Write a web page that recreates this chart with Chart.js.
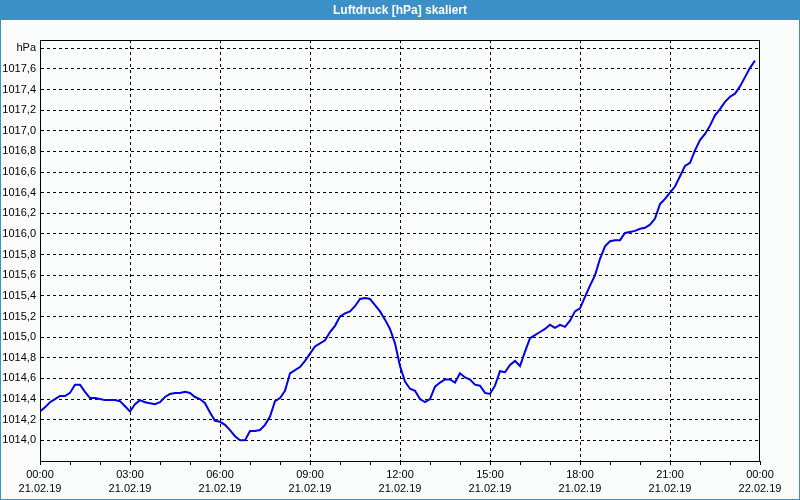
<!DOCTYPE html>
<html>
<head>
<meta charset="utf-8">
<title>Luftdruck</title>
<script src="https://cdn.jsdelivr.net/npm/chart.js@4.4.1/dist/chart.umd.min.js"></script>
<style>
  html, body { margin: 0; padding: 0; background: #fbfdfc; }
  canvas { display: block; }
</style>
</head>
<body>
<canvas id="chartLuftdruck" width="800" height="500"></canvas>
<script>
// Messzeiten (21.02.19, alle 10 Minuten)
const zeiten = [
  "00:00","00:10","00:20","00:30","00:40","00:50","01:00","01:10","01:20","01:30","01:40","01:50",
  "02:00","02:10","02:20","02:30","02:40","02:50","03:00","03:10","03:20","03:30","03:40","03:50",
  "04:00","04:10","04:20","04:30","04:40","04:50","05:00","05:10","05:20","05:30","05:40","05:50",
  "06:00","06:10","06:20","06:30","06:40","06:50","07:00","07:10","07:20","07:30","07:40","07:50",
  "08:00","08:10","08:20","08:30","08:40","08:50","09:00","09:10","09:20","09:30","09:40","09:50",
  "10:00","10:10","10:20","10:30","10:40","10:50","11:00","11:10","11:20","11:30","11:40","11:50",
  "12:00","12:10","12:20","12:30","12:40","12:50","13:00","13:10","13:20","13:30","13:40","13:50",
  "14:00","14:10","14:20","14:30","14:40","14:50","15:00","15:10","15:20","15:30","15:40","15:50",
  "16:00","16:10","16:20","16:30","16:40","16:50","17:00","17:10","17:20","17:30","17:40","17:50",
  "18:00","18:10","18:20","18:30","18:40","18:50","19:00","19:10","19:20","19:30","19:40","19:50",
  "20:00","20:10","20:20","20:30","20:40","20:50","21:00","21:10","21:20","21:30","21:40","21:50",
  "22:00","22:10","22:20","22:30","22:40","22:50","23:00","23:10","23:20","23:30","23:40","23:50"
];

// Luftdruck in hPa
const druck = [
  1014.28, 1014.32, 1014.37, 1014.40, 1014.43, 1014.43, 1014.46, 1014.54, 1014.54, 1014.47, 1014.41, 1014.41,
  1014.40, 1014.39, 1014.39, 1014.39, 1014.38, 1014.33, 1014.28, 1014.35, 1014.39, 1014.37, 1014.36, 1014.35,
  1014.37, 1014.42, 1014.45, 1014.46, 1014.46, 1014.47, 1014.46, 1014.42, 1014.40, 1014.36, 1014.27, 1014.19,
  1014.18, 1014.15, 1014.10, 1014.04, 1014.00, 1014.00, 1014.09, 1014.09, 1014.10, 1014.15, 1014.23, 1014.38,
  1014.41, 1014.48, 1014.65, 1014.68, 1014.71, 1014.77, 1014.84, 1014.91, 1014.94, 1014.97, 1015.05, 1015.11,
  1015.20, 1015.23, 1015.25, 1015.30, 1015.37, 1015.38, 1015.37, 1015.31, 1015.25, 1015.17, 1015.08, 1014.94,
  1014.72, 1014.57, 1014.50, 1014.48, 1014.40, 1014.37, 1014.40, 1014.52, 1014.56, 1014.59, 1014.59, 1014.56,
  1014.65, 1014.61, 1014.59, 1014.54, 1014.53, 1014.46, 1014.45, 1014.53, 1014.67, 1014.66, 1014.73, 1014.77,
  1014.72, 1014.86, 1014.99, 1015.02, 1015.05, 1015.08, 1015.12, 1015.09, 1015.12, 1015.10, 1015.16, 1015.25,
  1015.28, 1015.39, 1015.50, 1015.60, 1015.76, 1015.88, 1015.93, 1015.94, 1015.94, 1016.01, 1016.02, 1016.03,
  1016.05, 1016.06, 1016.09, 1016.15, 1016.29, 1016.34, 1016.40, 1016.46, 1016.56, 1016.66, 1016.69, 1016.81,
  1016.91, 1016.97, 1017.05, 1017.15, 1017.21, 1017.28, 1017.33, 1017.36, 1017.43, 1017.52, 1017.61, 1017.68
];

// Achsenbeschriftung
const xTickZeit = ["00:00", "03:00", "06:00", "09:00", "12:00", "15:00", "18:00", "21:00", "00:00"];
const xTickDatum = ["21.02.19", "21.02.19", "21.02.19", "21.02.19", "21.02.19", "21.02.19", "21.02.19", "21.02.19", "22.02.19"];
const yTicks = [1014.0, 1014.2, 1014.4, 1014.6, 1014.8, 1015.0, 1015.2, 1015.4, 1015.6, 1015.8,
                1016.0, 1016.2, 1016.4, 1016.6, 1016.8, 1017.0, 1017.2, 1017.4, 1017.6, 1017.8];
const yEinheit = "hPa";

const blau = "#3c90c8";

// Zeit "HH:MM" -> Stunden
function inStunden(t) {
  const [h, m] = t.split(":").map(Number);
  return h + m / 60;
}

const punkte = zeiten.map((t, i) => ({ x: inStunden(t), y: druck[i] }));

// Hintergrund, Titelbalken und Rahmen
const rahmenPlugin = {
  id: "rahmen",
  beforeDraw(chart) {
    const c = chart.ctx;
    c.save();
    c.fillStyle = "#fbfdfc";
    c.fillRect(0, 0, chart.width, chart.height);
    c.fillStyle = blau;
    c.fillRect(0, 0, chart.width, 20);
    c.strokeStyle = blau;
    c.lineWidth = 1;
    c.strokeRect(0.5, 0.5, chart.width - 1, chart.height - 1);
    c.restore();
  },
  afterDraw(chart) {
    const a = chart.chartArea;
    const c = chart.ctx;
    c.save();
    c.strokeStyle = "#000";
    c.lineWidth = 1;
    c.strokeRect(Math.round(a.left) + 0.5, Math.round(a.top) + 0.5,
                 Math.round(a.right - a.left) - 1, Math.round(a.bottom - a.top));
    c.restore();
  }
};

Chart.defaults.font.family = "'Liberation Sans', Arial, sans-serif";
Chart.defaults.font.size = 11;
Chart.defaults.color = "#000";

new Chart(document.getElementById("chartLuftdruck"), {
  type: "line",
  data: {
    datasets: [{
      label: "Luftdruck",
      data: punkte,
      borderColor: "#0000e6",
      borderWidth: 2,
      pointRadius: 0,
      tension: 0,
      fill: false
    }]
  },
  options: {
    responsive: false,
    animation: false,
    layout: { padding: 0 },
    plugins: {
      legend: { display: false },
      tooltip: { enabled: false },
      title: {
        display: true,
        text: "Luftdruck [hPa] skaliert",
        color: "#fff",
        font: { size: 12, weight: "bold" },
        padding: { top: 3, bottom: 22.6 }
      }
    },
    scales: {
      x: {
        type: "linear",
        min: 0,
        max: 24,
        afterBuildTicks: (scale) => {
          const t = [];
          for (let h = 0; h <= 24; h++) t.push({ value: h });
          scale.ticks = t;
        },
        afterFit: (scale) => { scale.height = 39; },
        grid: {
          color: (ctx) => {
            const v = ctx.tick ? ctx.tick.value : -1;
            return (v % 3 === 0 && v > 0 && v < 24) ? "#000" : "rgba(0,0,0,0)";
          },
          lineWidth: 1,
          tickColor: "#000",
          tickLength: 4
        },
        border: { display: true, color: "#000", width: 1, dash: [3, 3] },
        ticks: {
          autoSkip: false,
          maxRotation: 0,
          padding: 2,
          font: { size: 11, lineHeight: 1.36 },
          callback: (v) => (v % 3 === 0) ? [xTickZeit[v / 3], xTickDatum[v / 3]] : ""
        }
      },
      y: {
        min: 1013.8,
        max: 1017.88,
        afterBuildTicks: (scale) => {
          scale.ticks = yTicks.map(v => ({ value: v }));
        },
        afterFit: (scale) => { scale.width = 40; },
        grid: {
          color: "#000",
          lineWidth: 1,
          drawTicks: false
        },
        border: { display: true, color: "#000", width: 1, dash: [3, 3] },
        ticks: {
          padding: 4,
          callback: (v) => Math.abs(v - 1017.8) < 0.001 ? yEinheit : v.toFixed(1).replace(".", ",")
        }
      },
      // leerer Rand rechts
      rand: {
        position: "right",
        min: 1013.8,
        max: 1017.88,
        afterFit: (scale) => { scale.width = 40; },
        grid: { drawOnChartArea: false, drawTicks: false },
        border: { display: false },
        ticks: { display: false }
      }
    }
  },
  plugins: [rahmenPlugin]
});
</script>
</body>
</html>
